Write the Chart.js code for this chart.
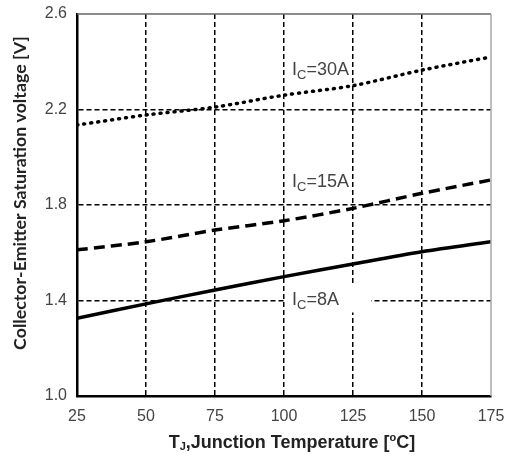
<!DOCTYPE html>
<html><head><meta charset="utf-8">
<script src="https://cdn.jsdelivr.net/npm/chart.js"></script>
<style>html,body{margin:0;padding:0;background:#fff}#wrap{width:506px;height:458px}</style>
</head><body><div id="wrap"><canvas id="c" width="506" height="458"></canvas></div>
<script>
const temps = [25, 50, 75, 100, 125, 150, 175];
const vce30A = [2.135, 2.177, 2.21, 2.26, 2.30, 2.365, 2.42];
const vce15A = [1.612, 1.646, 1.695, 1.734, 1.786, 1.849, 1.905];
const vce8A = [1.325, 1.386, 1.444, 1.50, 1.553, 1.604, 1.646];
const xTicks = [25, 50, 75, 100, 125, 150, 175];
const yTicks = [1.0, 1.4, 1.8, 2.2, 2.6];
const seriesLabels = [["I","C","=30A"],["I","C","=15A"],["I","C","=8A"]];
const labelAnchors = [[100, 2.365], [100, 1.896], [100, 1.40]];
const xTitle = ["T","J",",Junction Temperature [","o","C]"];
const yTitle = "Collector-Emitter Saturation voltage [V]";

const pts = a => temps.map((t,i)=>({x:t,y:a[i]}));
const FONT = '"Liberation Sans", Arial, sans-serif';
const YFONT = 'Lato, "Open Sans", sans-serif';

function drawSub(ctx, parts, x, y, size, color){
  ctx.fillStyle = color; ctx.textBaseline='middle'; ctx.textAlign='left';
  ctx.font = size+'px '+FONT; ctx.fillText(parts[0], x, y);
  let w = ctx.measureText(parts[0]).width; 
  ctx.font = Math.round(size*0.7)+'px '+FONT; ctx.fillText(parts[1], x+w, y+5);
  w += ctx.measureText(parts[1]).width;
  ctx.font = size+'px '+FONT; ctx.fillText(parts[2], x+w, y);
}

const deco = {
  id:'deco',
  beforeDatasetsDraw(chart){
    const {ctx, scales:{x,y}} = chart;
    const px = x.getPixelForValue(labelAnchors[2][0]), py = y.getPixelForValue(labelAnchors[2][1]);
    ctx.save(); ctx.fillStyle='#fff'; ctx.fillRect(px+2, py-16, 85, 28); ctx.restore();
  },
  afterDatasetsDraw(chart){
    const {ctx, scales:{x,y}, chartArea:ca} = chart;
    ctx.save();
    // top/right frame
    ctx.strokeStyle='#666'; ctx.lineWidth=1.5;
    ctx.beginPath(); ctx.moveTo(ca.left, ca.top); ctx.lineTo(ca.right, ca.top); ctx.stroke();
    ctx.strokeStyle='#aaa';
    ctx.beginPath(); ctx.moveTo(ca.right, ca.top); ctx.lineTo(ca.right, ca.bottom); ctx.stroke();
    // series labels
    seriesLabels.forEach((p,i)=>{
      const px = x.getPixelForValue(labelAnchors[i][0]) + 8;
      const py = y.getPixelForValue(labelAnchors[i][1]);
      drawSub(ctx, p, px, py, 18, '#444');
    });
    // x title
    ctx.fillStyle='#222'; ctx.textBaseline='middle'; ctx.textAlign='left';
    const big = 'bold 18px '+FONT, small = 'bold 11px '+FONT;
    ctx.font=big; let w0=ctx.measureText(xTitle[0]).width, w2=ctx.measureText(xTitle[2]).width, w4=ctx.measureText(xTitle[4]).width;
    ctx.font=small; let w1=ctx.measureText(xTitle[1]).width, w3=ctx.measureText(xTitle[3]).width;
    let total=w0+w1+w2+w3+w4; let sx=292-total/2; const ty=443;
    ctx.font=big; ctx.fillText(xTitle[0], sx, ty); sx+=w0;
    ctx.font=small; ctx.fillText(xTitle[1], sx, ty+4); sx+=w1;
    ctx.font=big; ctx.fillText(xTitle[2], sx, ty); sx+=w2;
    ctx.font=small; ctx.fillText(xTitle[3], sx, ty-5); sx+=w3;
    ctx.font=big; ctx.fillText(xTitle[4], sx, ty);
    // y title
    ctx.translate(20, 193); ctx.rotate(-Math.PI/2);
    ctx.textAlign='center';
    ctx.font='bold 16px '+YFONT;
    const m = ctx.measureText(yTitle).width;
    const sz = Math.max(12, Math.min(20, 16*315/m));
    ctx.font='bold '+sz.toFixed(1)+'px '+YFONT;
    ctx.fillText(yTitle, 0, 0);
    ctx.restore();
  }
};

new Chart(document.getElementById('c'), {
  type:'line',
  data:{datasets:[
    {label:'30A', data:pts(vce30A), borderColor:'#000', borderWidth:3.5, borderDash:[1,6], borderCapStyle:'round', pointRadius:0, tension:0.3, fill:false},
    {label:'15A', data:pts(vce15A), borderColor:'#000', borderWidth:3.5, borderDash:[11,6], pointRadius:0, tension:0.3, fill:false},
    {label:'8A', data:pts(vce8A), borderColor:'#000', borderWidth:3.5, pointRadius:0, tension:0.3, fill:false}
  ]},
  options:{
    responsive:false, animation:false, events:[],
    layout:{padding:{left:0,right:15,top:14,bottom:0}},
    plugins:{legend:{display:false}, tooltip:{enabled:false}},
    scales:{
      x:{type:'linear', min:25, max:175,
        afterBuildTicks:s=>{s.ticks=xTicks.map(v=>({value:v}));},
        afterFit:s=>{s.height=62; s.paddingLeft=0; s.paddingRight=0;},
        ticks:{font:{size:16,family:FONT}, color:'#444', padding:11, maxRotation:0},
        grid:{color:c=>(c.index===0||c.index===xTicks.length-1)?'rgba(0,0,0,0)':'#000', lineWidth:1.5, drawTicks:false},
        border:{display:true,color:'#000',width:2.5, dash:[5,3]}
      },
      y:{type:'linear', min:1.0, max:2.6,
        afterBuildTicks:s=>{s.ticks=yTicks.map(v=>({value:v}));},
        afterFit:s=>{s.width=77; s.paddingTop=0; s.paddingBottom=0;},
        ticks:{font:{size:16,family:FONT}, color:'#444', padding:10, callback:v=>v.toFixed(1)},
        grid:{color:c=>(c.index===0||c.index===yTicks.length-1)?'rgba(0,0,0,0)':'#000', lineWidth:1.5, drawTicks:false},
        border:{display:true,color:'#000',width:2.5, dash:[5,3]}
      }
    }
  },
  plugins:[deco]
});
</script></body></html>
